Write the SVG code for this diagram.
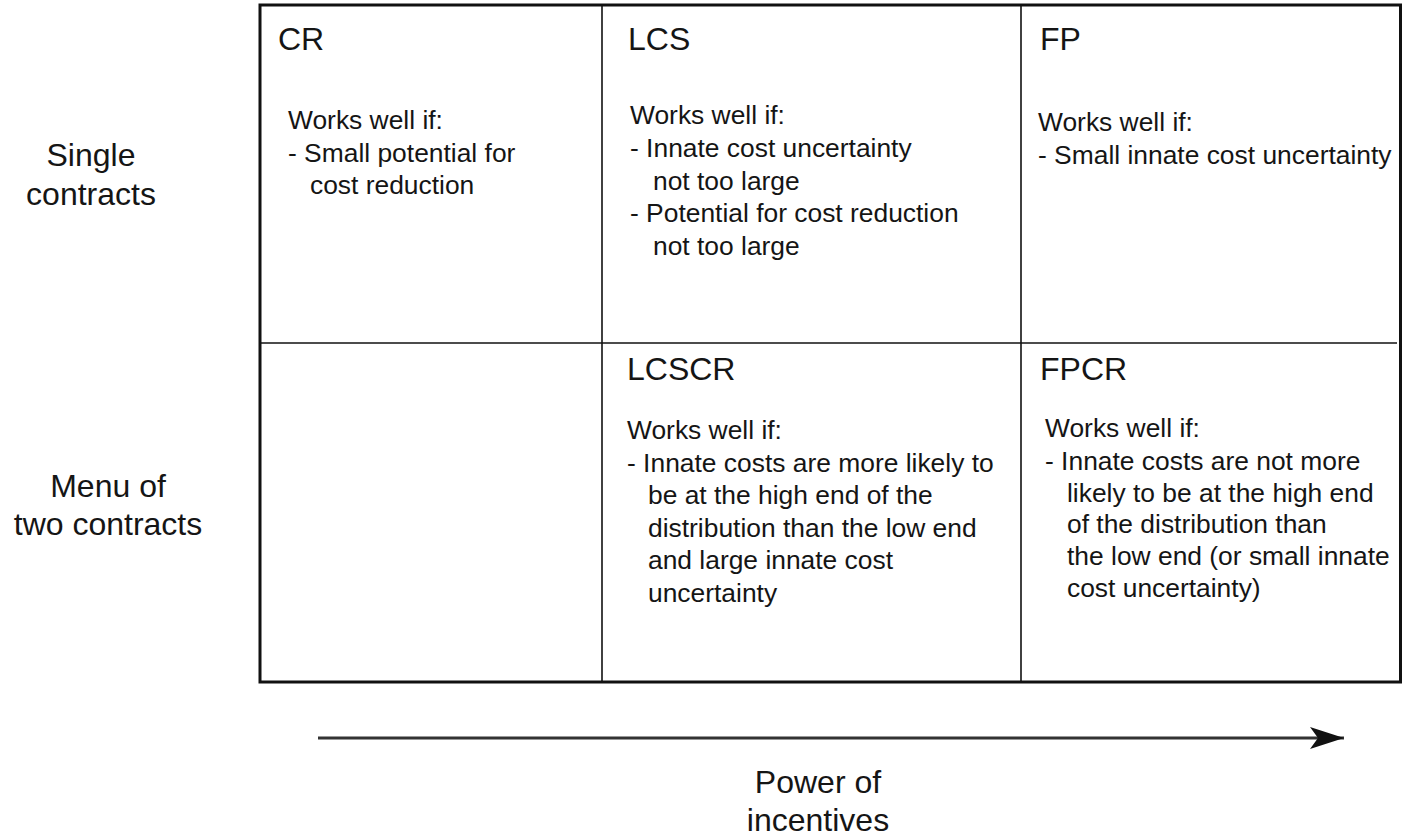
<svg xmlns="http://www.w3.org/2000/svg" width="1410" height="838" viewBox="0 0 1410 838">
  <style>
    text { font-family: "Liberation Sans", Arial, sans-serif; fill: #151515; }
    .title { font-size: 32px; }
    .body { font-size: 26.4px; }
    .label { font-size: 32px; text-anchor: middle; }
    .grid { stroke: #111; stroke-width: 1.6; fill: none; }
    .frame { stroke: #111; stroke-width: 3; fill: none; }
    .axis { stroke: #333; stroke-width: 3; fill: none; }
  </style>
  <defs>
    <marker id="arrowhead" markerUnits="userSpaceOnUse" markerWidth="38" markerHeight="26" refX="34" refY="11" orient="auto">
      <polygon points="0,0 34,11 0,22 8,11" fill="#111"/>
    </marker>
  </defs>
  <rect width="1410" height="838" fill="#fff"/>

  <g id="table-frame">
    <rect class="frame" x="260" y="5" width="1140.5" height="677"/>
    <line class="grid" x1="602" y1="5" x2="602" y2="682"/>
    <line class="grid" x1="1021" y1="5" x2="1021" y2="682"/>
    <line class="grid" x1="260" y1="343" x2="1397" y2="343"/>
  </g>

  <g id="row-single">
    <text class="label" x="91" y="166">Single</text>
    <text class="label" x="91" y="205">contracts</text>
  </g>
  <g id="row-menu">
    <text class="label" x="108" y="497">Menu of</text>
    <text class="label" x="108" y="535">two contracts</text>
  </g>

  <g id="cell-CR">
    <text class="title" x="278" y="50">CR</text>
    <text class="body" x="288" y="129">Works well if:</text>
    <text class="body" x="288" y="162">- Small potential for</text>
    <text class="body" x="310" y="194">cost reduction</text>
  </g>

  <g id="cell-LCS">
    <text class="title" x="628" y="50">LCS</text>
    <text class="body" x="630" y="124">Works well if:</text>
    <text class="body" x="630" y="157">- Innate cost uncertainty</text>
    <text class="body" x="653" y="190">not too large</text>
    <text class="body" x="630" y="222">- Potential for cost reduction</text>
    <text class="body" x="653" y="255">not too large</text>
  </g>

  <g id="cell-FP">
    <text class="title" x="1040" y="50">FP</text>
    <text class="body" x="1038" y="131">Works well if:</text>
    <text class="body" x="1038" y="164">- Small innate cost uncertainty</text>
  </g>

  <g id="cell-LCSCR">
    <text class="title" x="627" y="380">LCSCR</text>
    <text class="body" x="627" y="439">Works well if:</text>
    <text class="body" x="627" y="472">- Innate costs are more likely to</text>
    <text class="body" x="648" y="504">be at the high end of the</text>
    <text class="body" x="648" y="537">distribution than the low end</text>
    <text class="body" x="648" y="569">and large innate cost</text>
    <text class="body" x="648" y="602">uncertainty</text>
  </g>

  <g id="cell-FPCR">
    <text class="title" x="1040" y="380">FPCR</text>
    <text class="body" x="1045" y="437">Works well if:</text>
    <text class="body" x="1045" y="470">- Innate costs are not more</text>
    <text class="body" x="1067" y="502">likely to be at the high end</text>
    <text class="body" x="1067" y="533">of the distribution than</text>
    <text class="body" x="1067" y="565">the low end (or small innate</text>
    <text class="body" x="1067" y="597">cost uncertainty)</text>
  </g>

  <g id="connectors">
    <line class="axis" x1="318" y1="738" x2="1344" y2="738" marker-end="url(#arrowhead)"/>
  </g>

  <g id="axis-label">
    <text class="label" x="818" y="793">Power of</text>
    <text class="label" x="818" y="831">incentives</text>
  </g>
</svg>
